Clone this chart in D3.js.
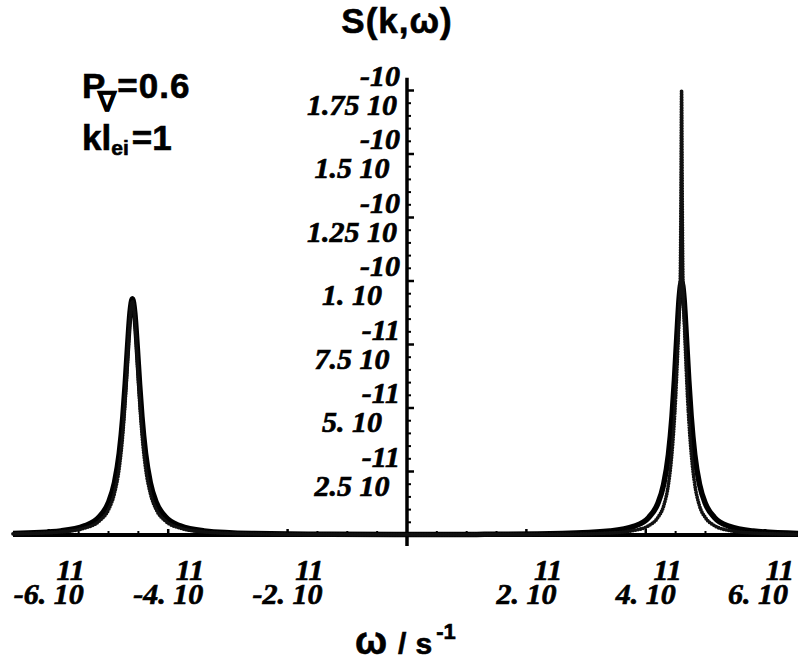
<!DOCTYPE html>
<html>
<head>
<meta charset="utf-8">
<script src="https://cdn.jsdelivr.net/npm/d3@7"></script>
<style>
  body { margin: 0; background: #fff; }
  .tick-label { font-family: 'Liberation Serif', serif; font-weight: bold; font-style: italic; font-size: 30px; stroke: #000; stroke-width: 0.7px; }
  .sans { font-family: 'Liberation Sans', Arial, sans-serif; font-weight: bold; stroke: #000; stroke-width: 0.6px; }
</style>
</head>
<body>
<div id="container"></div>
<script>
'use strict';

const w = 799;
const h = 671;

// omega in units of 1e11 s^-1, S in units of 1e-10
const omegaSolid = [-6.6, -5.8, -5.4, -5.15, -5.0, -4.9, -4.82, -4.76, -4.72, -4.68, -4.64, -4.6,
    -4.56, -4.52, -4.48, -4.44, -4.38, -4.3, -4.2, -4.05, -3.8, -3.4, -2.6, -1.3, 0, 1.3,
    2.6, 3.4, 3.8, 4.05, 4.2, 4.3, 4.38, 4.44, 4.48, 4.52, 4.56, 4.6,
    4.64, 4.68, 4.72, 4.76, 4.82, 4.9, 5.0, 5.15, 5.4, 5.8, 6.55];
const sSolid = [0.0059, 0.0162, 0.0358, 0.0726, 0.128, 0.206, 0.322, 0.465, 0.595, 0.744, 0.875, 0.93,
    0.875, 0.744, 0.595, 0.465, 0.322, 0.206, 0.128, 0.0726, 0.0358, 0.0162, 0.0059, 0.0025, 0.002, 0.0025,
    0.0056, 0.0154, 0.034, 0.0692, 0.123, 0.2, 0.317, 0.468, 0.61, 0.779, 0.934, 1.0,
    0.934, 0.779, 0.61, 0.468, 0.317, 0.2, 0.123, 0.0692, 0.034, 0.0154, 0.0059];

const omegaDots = [-6.6, -5.8, -5.4, -5.15, -5.0, -4.9, -4.82, -4.76, -4.72, -4.68, -4.64, -4.6,
    -4.56, -4.52, -4.48, -4.44, -4.38, -4.3, -4.2, -4.05, -3.8, -3.4, -2.6, -1.3, 0, 1.3,
    2.6, 3.4, 3.8, 4.05, 4.2, 4.3, 4.38, 4.43, 4.47, 4.5, 4.52, 4.54, 4.555, 4.57, 4.58, 4.59, 4.6,
    4.61, 4.62, 4.63, 4.645, 4.66, 4.68, 4.7, 4.73, 4.77, 4.82, 4.9, 5.0, 5.15, 5.4, 5.8, 6.55];
const sDots = [0.0045, 0.0123, 0.0273, 0.056, 0.100, 0.165, 0.265, 0.399, 0.530, 0.694, 0.851, 0.92,
    0.851, 0.694, 0.530, 0.399, 0.265, 0.165, 0.100, 0.056, 0.0273, 0.0123, 0.0045, 0.002, 0.0015, 0.002,
    0.003, 0.008, 0.018, 0.037, 0.068, 0.115, 0.20, 0.30, 0.42, 0.54, 0.64, 0.75, 0.84, 0.93, 1.05, 1.35, 1.75,
    1.35, 1.05, 0.93, 0.84, 0.75, 0.64, 0.54, 0.42, 0.30, 0.20, 0.115, 0.068, 0.037, 0.018, 0.008, 0.003];

const yTicks = [0.25, 0.5, 0.75, 1.0, 1.25, 1.5, 1.75];
const yMantissa = ['2.5', '5.', '7.5', '1.', '1.25', '1.5', '1.75'];
const yExponent = ['-11', '-11', '-11', '-10', '-10', '-10', '-10'];
const yMinorTicks = d3.range(0.05, 1.8, 0.05).filter((v) => Math.abs(v * 4 - Math.round(v * 4)) > 1e-6);

const xTicks = [-6, -4, -2, 2, 4, 6];
const xMantissa = ['-6.', '-4.', '-2.', '2.', '4.', '6.'];
const xExponent = ['11', '11', '11', '11', '11', '11'];
const xMinorTicks = d3.range(-6.5, 6.6, 0.5).filter((v) => v !== 0 && v % 2 !== 0);

const xScale = d3.scaleLinear().domain([-6.6, 6.55]).range([13, 798]);
const yScale = d3.scaleLinear().domain([0, 1.8]).range([535, 77.8]);
const x0 = xScale(0);
const y0 = yScale(0);

const svg = d3.select('#container')
    .append('svg')
    .attr('width', w)
    .attr('height', h);

// title and annotations
svg.append('text')
    .attr('class', 'sans')
    .attr('x', 397)
    .attr('y', 33)
    .attr('text-anchor', 'middle')
    .attr('font-size', 35)
    .attr('letter-spacing', 1)
    .text('S(k,ω)');

const pv = svg.append('text')
    .attr('class', 'sans')
    .attr('x', 82)
    .attr('y', 98)
    .attr('font-size', 35)
    .attr('letter-spacing', 1);
pv.append('tspan').text('P');
pv.append('tspan').attr('font-size', 27).attr('dx', -8).attr('dy', 13).text('∇');
pv.append('tspan').attr('dy', -13).text('=0.6');

const kl = svg.append('text')
    .attr('class', 'sans')
    .attr('x', 82)
    .attr('y', 150)
    .attr('font-size', 35);
kl.append('tspan').text('kl');
kl.append('tspan').attr('font-size', 21).attr('dy', 5).text('ei');
kl.append('tspan').attr('dx', 3).attr('dy', -5).text('=1');

const xl = svg.append('text')
    .attr('class', 'sans')
    .attr('x', 355)
    .attr('y', 654)
    .attr('font-size', 30);
xl.append('tspan').attr('font-size', 38).text('ω');
xl.append('tspan').attr('dx', 11).text('/');
xl.append('tspan').attr('dx', 9).text('s');
xl.append('tspan').attr('font-size', 22).attr('dx', 4).attr('dy', -15).text('-1');

// axes
const axisG = svg.append('g').attr('stroke', '#000').attr('fill', 'none');
axisG.append('line')
    .attr('x1', xScale.range()[0]).attr('x2', xScale.range()[1])
    .attr('y1', y0).attr('y2', y0)
    .attr('stroke-width', 4);
axisG.append('line')
    .attr('x1', x0).attr('x2', x0)
    .attr('y1', yScale.range()[1]).attr('y2', y0 + 11)
    .attr('stroke-width', 3.5);

axisG.selectAll('.ymaj')
    .data(yTicks)
    .enter()
    .append('line')
    .attr('x1', x0).attr('x2', x0 + 7)
    .attr('y1', (d) => yScale(d)).attr('y2', (d) => yScale(d))
    .attr('stroke-width', 2.5);
axisG.selectAll('.ymin')
    .data(yMinorTicks)
    .enter()
    .append('line')
    .attr('x1', x0).attr('x2', x0 + 4)
    .attr('y1', (d) => yScale(d)).attr('y2', (d) => yScale(d))
    .attr('stroke-width', 2);
axisG.selectAll('.xmaj')
    .data(xTicks)
    .enter()
    .append('line')
    .attr('x1', (d) => xScale(d)).attr('x2', (d) => xScale(d))
    .attr('y1', y0).attr('y2', y0 - 6)
    .attr('stroke-width', 2.5);
axisG.selectAll('.xmin')
    .data(xMinorTicks)
    .enter()
    .append('line')
    .attr('x1', (d) => xScale(d)).attr('x2', (d) => xScale(d))
    .attr('y1', y0).attr('y2', y0 - 4)
    .attr('stroke-width', 2);

// tick labels: exponent line above mantissa line, one text element each
yTicks.forEach((v, i) => {
    const t = svg.append('text').attr('class', 'tick-label');
    t.append('tspan')
        .attr('x', 400)
        .attr('y', yScale(v) - 5)
        .attr('text-anchor', 'end')
        .text(yExponent[i]);
    t.append('tspan')
        .attr('x', 352)
        .attr('y', yScale(v) + 24)
        .attr('text-anchor', 'middle')
        .text(yMantissa[i] + ' 10');
});

xTicks.forEach((v, i) => {
    const cx = Math.min(xScale(v), 758);
    const t = svg.append('text').attr('class', 'tick-label');
    t.append('tspan')
        .attr('x', cx + 36)
        .attr('y', y0 + 45)
        .attr('text-anchor', 'end')
        .text(xExponent[i]);
    t.append('tspan')
        .attr('x', cx)
        .attr('y', y0 + 69)
        .attr('text-anchor', 'middle')
        .text(xMantissa[i] + ' 10');
});

// curves
const line = d3.line()
    .x((d) => xScale(d[0]))
    .y((d) => yScale(d[1]))
    .curve(d3.curveMonotoneX);

svg.append('path')
    .datum(d3.zip(omegaSolid, sSolid))
    .attr('d', line)
    .attr('fill', 'none')
    .attr('stroke', '#000')
    .attr('stroke-width', 5.5)
    .attr('stroke-linejoin', 'round');

svg.append('path')
    .datum(d3.zip(omegaDots, sDots))
    .attr('d', line)
    .attr('fill', 'none')
    .attr('stroke', '#111')
    .attr('stroke-width', 3.8)
    .attr('stroke-linecap', 'round')
    .attr('stroke-dasharray', '0 2.6');
</script>
</body>
</html>
